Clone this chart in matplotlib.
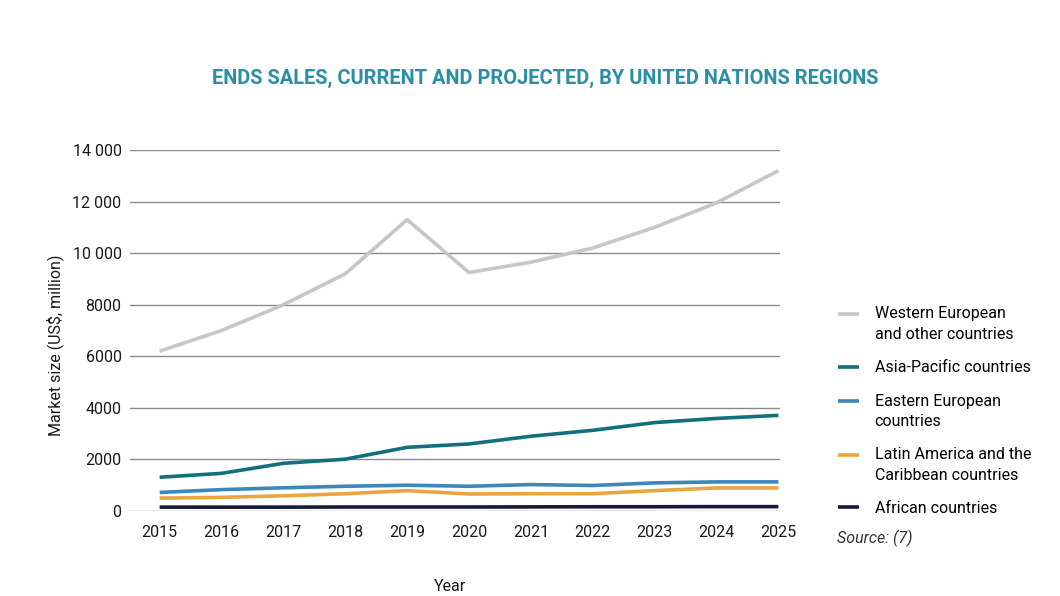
import numpy as np
import matplotlib.pyplot as plt
from matplotlib.ticker import FuncFormatter

years = [2015, 2016, 2017, 2018, 2019, 2020, 2021, 2022, 2023, 2024, 2025]

western = [6200, 7000, 8000, 9200, 11300, 9250, 9650, 10200, 11000, 11950, 13200]
asia_pacific = [1310, 1460, 1850, 2010, 2470, 2600, 2900, 3130, 3430, 3590, 3710]
eastern = [720, 830, 900, 960, 1000, 960, 1025, 990, 1090, 1130, 1130]
latin = [500, 530, 590, 670, 790, 660, 670, 670, 790, 895, 895]
african = [150, 150, 150, 155, 155, 155, 160, 165, 165, 170, 170]

labels = ["Western European\nand other countries", "Asia-Pacific countries",
          "Eastern European\ncountries", "Latin America and the\nCaribbean countries",
          "African countries"]
colors = ["#c6c6c6", "#11707c", "#3d86b8", "#e9a540", "#17193a"]

plt.rcParams['font.family'] = ['Roboto', 'DejaVu Sans']

fig = plt.figure(figsize=(10.6, 5.96), dpi=100)
ax = fig.add_axes([0.1226, 0.1426, 0.6135, 0.6057])

series = [western, asia_pacific, eastern, latin, african]
for values, label, color in zip(series, labels, colors):
    ax.plot(years, values, color=color, linewidth=2.6, label=label, solid_capstyle='butt')

ax.set_xlim(2014.52, 2025.03)
ax.set_ylim(0, 14000)
ax.set_xticks(years)
ax.set_yticks(range(0, 14001, 2000))
ax.yaxis.set_major_formatter(FuncFormatter(
    lambda v, p: f"{int(v):,}".replace(",", " ") if v >= 10000 else f"{int(v)}"))
ax.grid(axis='y', color='#8a8a8a', linewidth=1.0)
ax.set_axisbelow(True)
for s in ax.spines.values():
    s.set_visible(False)
ax.tick_params(length=0, labelsize=11.5, colors='#1a1a1a')
ax.tick_params(axis='x', pad=10)
ax.tick_params(axis='y', pad=6)

fig.text(0.052, 0.421, "Market size (US$, million)", fontsize=11.5, color='#1a1a1a',
         rotation=90, ha='center', va='center')
fig.text(0.425, 0.004, "Year", fontsize=11.5, color='#1a1a1a', ha='center', va='bottom')

fig.text(0.514, 0.869, "ENDS SALES, CURRENT AND PROJECTED, BY UNITED NATIONS REGIONS",
         ha='center', va='center', fontsize=14.4, fontweight='bold', color='#2a8ea6')

leg = fig.legend(loc='upper left', bbox_to_anchor=(0.777, 0.51), frameon=False,
                 fontsize=11.5, handlelength=1.3, handletextpad=1.0, labelspacing=1.15)
for t in leg.get_texts():
    t.set_linespacing(1.45)

# legend keys sit level with the first line of a two-line label
for line, label in zip(leg.get_lines(), labels):
    if "\n" in label:
        line.set_ydata(np.asarray(line.get_ydata()) + 7.5)

fig.text(0.79, 0.097, "Source: (7)", fontsize=11.5, style='italic', color='#333333',
         ha='left', va='center')

fig.savefig("out.png", dpi=100)
